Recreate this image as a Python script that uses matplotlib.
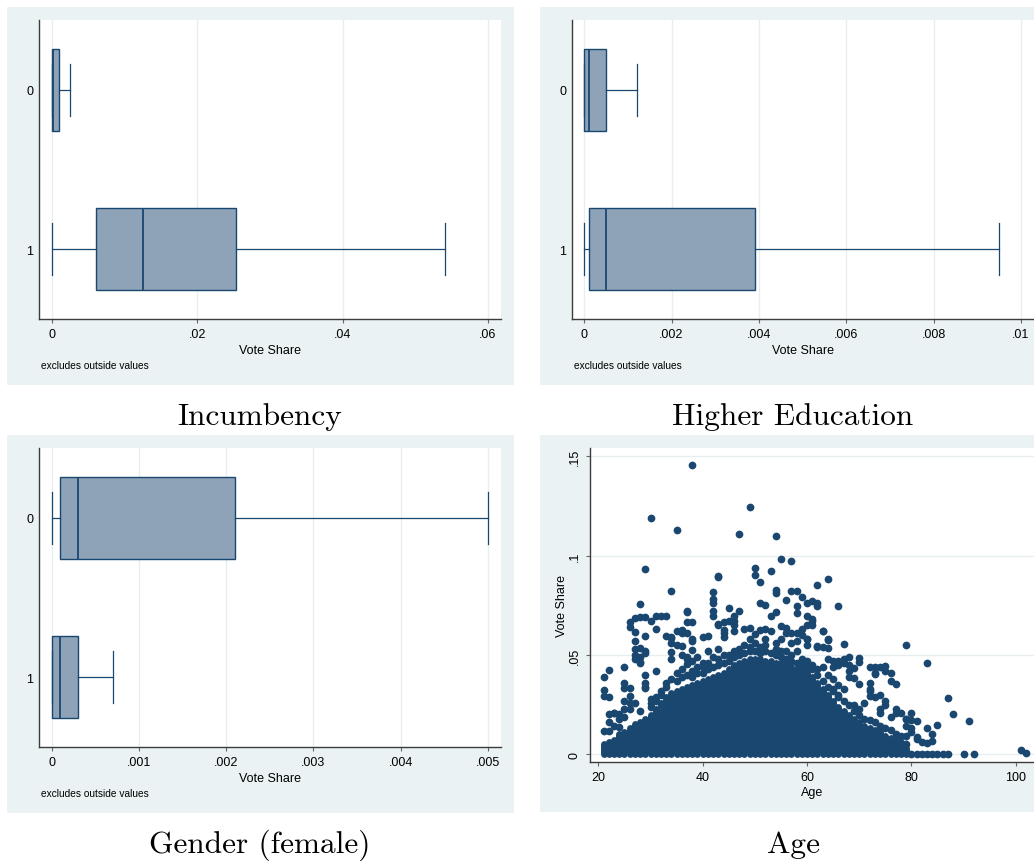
import numpy as np
import matplotlib.pyplot as plt
from matplotlib.patches import Rectangle

# =========================
# DATA
# =========================
groups = [0, 1]
group_labels = ["0", "1"]

# Incumbency (hbox of vote share, outside values excluded)
inc_whislo = [0.0, 0.0]
inc_q1 = [0.0, 0.0061]
inc_med = [0.0002, 0.0126]
inc_q3 = [0.0010, 0.0253]
inc_whishi = [0.0025, 0.0541]

# Higher education
edu_whislo = [0.0, 0.0]
edu_q1 = [0.0, 0.0001]
edu_med = [0.0001, 0.0005]
edu_q3 = [0.0005, 0.0039]
edu_whishi = [0.0012, 0.0095]

# Gender (female)
gen_whislo = [0.0, 0.0]
gen_q1 = [0.0001, 0.0]
gen_med = [0.0003, 0.0001]
gen_q3 = [0.0021, 0.0003]
gen_whishi = [0.0050, 0.0007]

# Age scatter: dense core read as the top of the solid column per age
blob_age = list(range(21, 80))
blob_top = [0.005, 0.006, 0.007, 0.010, 0.011, 0.013, 0.015, 0.016, 0.018, 0.020,
            0.023, 0.026, 0.029, 0.031, 0.032, 0.033, 0.034, 0.035, 0.036, 0.037,
            0.038, 0.039, 0.040, 0.041, 0.043, 0.045, 0.046, 0.047, 0.048, 0.048,
            0.048, 0.047, 0.047, 0.046, 0.046, 0.045, 0.044, 0.043, 0.042, 0.041,
            0.039, 0.036, 0.033, 0.030, 0.027, 0.024, 0.022, 0.020, 0.018, 0.016,
            0.014, 0.013, 0.012, 0.011, 0.009, 0.008, 0.007, 0.006, 0.003]

# Age scatter: individual points outside the dense core
points = [
    (38, .1456), (49, .1246), (30, .1188), (35, .1129), (47, .1110), (54, .1100),
    (55, .0983), (57, .0971), (29, .0931), (50, .0936), (50, .0905), (53, .0921),
    (43, .0899), (43, .0890), (64, .0884), (51, .0868), (62, .0853), (34, .0821),
    (42, .0818), (42, .0784), (42, .0764), (54, .0825), (54, .0810), (57, .0820),
    (58, .0820), (59, .0790), (56, .0778), (28, .0759), (51, .0764), (52, .0750),
    (66, .0748), (60, .0764), (61, .0771), (62, .0764), (62, .0748), (58, .0748),
    (45, .0736), (47, .0719), (37, .0722), (37, .0714), (54, .0714), (58, .0709),
    (53, .0697), (42, .0697), (31, .0697), (32, .0697), (33, .0697), (27, .0684),
    (30, .0672), (61, .0672), (60, .0697), (46, .0697), (46, .0650), (46, .0670),
    (44, .0667), (26, .0664), (26, .0643), (43, .0655), (38, .0664), (55, .0647),
    (56, .0638), (48, .0630), (49, .0637), (31, .0633), (52, .0633), (60, .0650),
    (27, .0616), (35, .0622), (36, .0625), (44, .0625), (63, .0622), (57, .0613),
    (58, .0613), (50, .0605), (51, .0627), (29, .0597), (37, .0613), (33, .0593),
    (34, .0583), (41, .0593), (60, .0580), (64, .0576), (55, .0580), (27, .0571),
    (44, .0588), (36, .0546), (67, .0554), (79, .0548), (58, .0568), (28, .0537),
    (29, .0520), (29, .0509), (34, .0516), (38, .0526), (64, .0537), (62, .0546),
    (83, .0457), (25, .0437), (22, .0425), (21, .0390), (73, .0440), (75, .0443),
    (76, .0410), (69, .0432), (70, .0485), (70, .0467), (67, .0479), (27, .0479),
    (28, .0462), (39, .0489), (37, .0482), (37, .0454), (31, .0417), (77, .0353),
    (70, .0356), (69, .0386), (73, .0403), (21, .0323), (21, .0294), (25, .0358),
    (25, .0336), (26, .0336), (26, .0294), (29, .0340), (29, .0332), (72, .0360),
    (72, .0328), (72, .0294), (74, .0300), (87, .0284), (88, .0205), (91, .0165),
    (83, .0130), (85, .0148), (84, .0104), (79, .0176), (80, .0210), (81, .0166),
    (81, .0089), (83, .0059), (84, .0067), (90, 0.0), (92, 0.0), (101, .0020),
    (102, .0005),
    (21, .0118), (22, .0160), (22, .0205), (23, .0210), (24, .0205), (22, .0118),
    (24, .0136), (25, .0230), (25, .0270), (26, .0260), (26, .0230),
    (28, .0690), (29, .0690), (37, .0665), (34, .0590), (36, .0610), (38, .0580),
    (38, .0570), (42, .0720), (43, .0650), (44, .0610), (45, .0670), (46, .0620),
    (48, .0550), (49, .0580), (50, .0560), (51, .0540), (52, .0580), (53, .0620),
    (54, .0560), (56, .0610), (57, .0560), (59, .0630), (59, .0600), (60, .0550),
    (27, .0530), (27, .0500), (28, .0490), (28, .0460), (29, .0400), (29, .0360),
    (34, .0560), (34, .0480), (35, .0550), (36, .0500), (37, .0490), (38, .0470),
    (40, .0590), (40, .0460), (40, .0440), (41, .0520), (42, .0490), (43, .0530),
    (44, .0500), (45, .0500), (22, .0290), (23, .0210), (24, .0180), (25, .0190),
    (23, .0140), (27, .0260), (28, .0220), (30, .0280), (31, .0270), (32, .0300),
    (33, .0340), (30, .0240),
    (61, .0680), (61, .0650), (63, .0620), (64, .0580), (60, .0580), (62, .0540),
    (63, .0540), (64, .0480), (65, .0470), (66, .0470), (66, .0450), (67, .0460),
    (65, .0440), (68, .0490), (68, .0450), (68, .0420), (68, .0390), (72, .0440),
    (73, .0410), (74, .0440), (75, .0420), (76, .0370), (72, .0320), (73, .0290),
    (71, .0260), (69, .0250), (70, .0230), (75, .0270), (75, .0250), (77, .0230),
    (77, .0210), (74, .0230), (74, .0210), (76, .0190), (78, .0210), (79, .0180),
    (80, .0170), (79, .0140), (80, .0130), (80, .0110), (79, .0090), (81, .0075),
    (82, .0060), (79, .0050),
    (56, .0520), (57, .0500), (58, .0520), (59, .0480), (60, .0470), (61, .0450),
    (62, .0430), (63, .0440), (64, .0400), (65, .0380), (66, .0350), (67, .0330),
    (65, .0320), (66, .0300),
    (30, .0260), (31, .0290), (32, .0320), (33, .0360), (34, .0380), (35, .0370),
    (35, .0410), (36, .0390), (36, .0430), (37, .0400), (38, .0390), (38, .0420),
    (39, .0410), (39, .0440), (40, .0410), (41, .0430), (41, .0460), (42, .0440),
    (43, .0450), (43, .0480), (44, .0460), (45, .0470), (46, .0490), (46, .0520),
    (47, .0500), (47, .0530), (48, .0510), (49, .0520), (49, .0540), (50, .0520),
    (51, .0510), (52, .0520), (52, .0550), (53, .0510), (54, .0500), (54, .0530),
    (55, .0490), (55, .0520), (56, .0480), (57, .0470), (58, .0460), (59, .0450),
    (60, .0440), (61, .0430), (62, .0400), (63, .0370), (64, .0340), (65, .0330),
    (66, .0290), (67, .0270), (68, .0250), (69, .0220), (70, .0200), (71, .0180),
    (72, .0170), (73, .0160), (74, .0140), (75, .0130), (76, .0120), (77, .0100),
    (78, .0090),
    (80, 0.0), (81, 0.0), (82, 0.0), (83, 0.0), (84, 0.0), (85, 0.0), (86, 0.0),
    (87, 0.0),
]
pt_age = [p[0] for p in points]
pt_share = [p[1] for p in points]

# =========================
# STYLE
# =========================
W, H = 1034, 862
navy = "#1a476f"
box_fill = "#8ea3b8"
outer_bg = "#eaf2f3"
grid_c = "#e6eef0"
axis_c = "#3c3c3c"
plt.rcParams["font.family"] = ["Liberation Sans", "DejaVu Sans"]

fig = plt.figure(figsize=(W / 100, H / 100), dpi=100)


def px_axes(left, top, right, bottom):
    return fig.add_axes([left / W, 1 - bottom / H, (right - left) / W, (bottom - top) / H])


def panel_bg(left, top, right, bottom):
    fig.patches.append(Rectangle((left / W, 1 - bottom / H), (right - left) / W,
                                 (bottom - top) / H, transform=fig.transFigure,
                                 facecolor=outer_bg, edgecolor="none", zorder=-5))


def style_axes(ax):
    for s in ["top", "right"]:
        ax.spines[s].set_visible(False)
    for s in ["left", "bottom"]:
        ax.spines[s].set_color(axis_c)
        ax.spines[s].set_linewidth(1.0)
    ax.set_facecolor("white")
    ax.tick_params(axis="both", labelsize=9, color="#666666", length=3, width=0.8)


def hbox(ax, whislo, q1, med, q3, whishi, xlim, xticks, xticklabels):
    stats = []
    for i in range(len(groups)):
        stats.append(dict(whislo=whislo[i], q1=q1[i], med=med[i], q3=q3[i],
                          whishi=whishi[i], fliers=[]))
    ax.bxp(stats, positions=groups, widths=0.51, capwidths=0.33,
           orientation="horizontal", patch_artist=True, showfliers=False,
           boxprops=dict(facecolor=box_fill, edgecolor=navy, linewidth=1.0),
           medianprops=dict(color=navy, linewidth=1.3),
           whiskerprops=dict(color=navy, linewidth=0.9),
           capprops=dict(color=navy, linewidth=0.9))
    style_axes(ax)
    ax.set_xlim(*xlim)
    ax.set_ylim(1.44, -0.44)
    ax.set_yticks(groups)
    ax.set_yticklabels(group_labels)
    ax.tick_params(axis="y", length=0, pad=4)
    ax.set_xticks(xticks)
    ax.set_xticklabels(xticklabels)
    ax.grid(axis="x", color=grid_c, linewidth=1.0)
    ax.set_axisbelow(True)
    ax.set_xlabel("Vote Share", fontsize=9, labelpad=3)


# panel backgrounds
panel_bg(7, 8, 514, 386)
panel_bg(540, 8, 1034, 386)
panel_bg(7, 436, 514, 814)
panel_bg(540, 436, 1034, 813)

# Incumbency
ax1 = px_axes(39, 21, 501, 320)
hbox(ax1, inc_whislo, inc_q1, inc_med, inc_q3, inc_whishi, (-0.00175, 0.0618),
     [0, .02, .04, .06], ["0", ".02", ".04", ".06"])
fig.text(41 / W, 1 - 366 / H, "excludes outside values", fontsize=7.3, va="center")

# Higher Education
ax2 = px_axes(572, 21, 1034, 320)
hbox(ax2, edu_whislo, edu_q1, edu_med, edu_q3, edu_whishi, (-0.00028, 0.0103),
     [0, .002, .004, .006, .008, .01], ["0", ".002", ".004", ".006", ".008", ".01"])
fig.text(574 / W, 1 - 366 / H, "excludes outside values", fontsize=7.3, va="center")

# Gender (female)
ax3 = px_axes(39, 449, 501, 748)
hbox(ax3, gen_whislo, gen_q1, gen_med, gen_q3, gen_whishi, (-0.000146, 0.00515),
     [0, .001, .002, .003, .004, .005], ["0", ".001", ".002", ".003", ".004", ".005"])
fig.text(41 / W, 1 - 794 / H, "excludes outside values", fontsize=7.3, va="center")

# Age scatter
ax4 = px_axes(590, 449, 1034, 763)
style_axes(ax4)
ax4.vlines(blob_age, 0, blob_top, colors=navy, linewidth=5.0, capstyle="round", zorder=3)
ax4.scatter(pt_age, pt_share, s=31, color=navy, linewidths=0, zorder=3)
ax4.set_xlim(18.4, 103.5)
ax4.set_ylim(-0.0039, 0.1542)
ax4.set_xticks([20, 40, 60, 80, 100])
ax4.set_yticks([0, .05, .1, .15])
ax4.set_yticklabels(["0", ".05", ".1", ".15"], rotation=90, va="center")
ax4.grid(axis="y", color=grid_c, linewidth=1.0)
ax4.set_axisbelow(True)
ax4.set_xlabel("Age", fontsize=9, labelpad=2)
ax4.set_ylabel("Vote Share", fontsize=9, labelpad=1)

# captions
cap_kw = dict(fontsize=22.5, family="cmr10", ha="center", va="baseline")
fig.text(260 / W, 1 - 425 / H, "Incumbency", **cap_kw)
fig.text(793 / W, 1 - 425 / H, "Higher Education", **cap_kw)
fig.text(260 / W, 1 - 853 / H, "Gender (female)", **cap_kw)
fig.text(793 / W, 1 - 853 / H, "Age", **cap_kw)

fig.savefig("out.png", dpi=100)
